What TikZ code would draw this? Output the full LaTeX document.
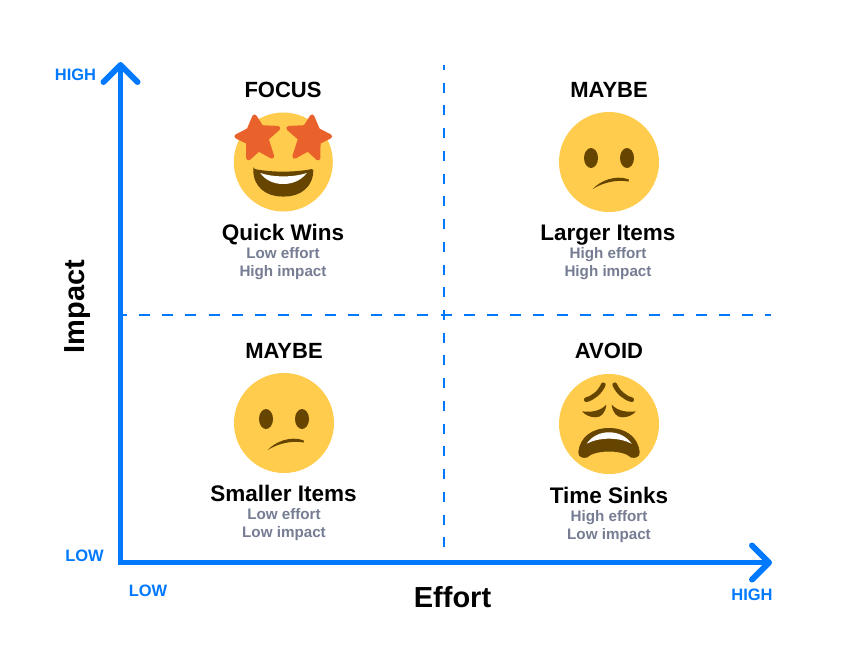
\documentclass[tikz,border=0pt]{standalone}
\usepackage{fontspec}
\setmainfont{Liberation Sans}
\usetikzlibrary{arrows.meta}
\definecolor{axisblue}{HTML}{0079FF}
\definecolor{subgrey}{HTML}{767D93}
\definecolor{faceyellow}{HTML}{FFCC4D}
\definecolor{facebrown}{HTML}{664500}
\definecolor{starorange}{HTML}{E9622B}
\tikzset{
  axishead/.tip={Straight Barb[round,length=17pt,width=34pt,line width=6pt]},
  starface/.pic={
    \fill[faceyellow] (0,0) circle (49.5);
    \foreach \side in {1,-1} {
      \fill[starorange,draw=starorange,line width=4.5pt,line join=round,xscale=\side]
        (-28.8,-45.3) -- (-21.9,-34.6) -- (-5.2,-33.8) -- (-17,-23.4) -- (-11.3,-5.5) -- (-24.7,-13)
        -- (-34.8,-3.8) -- (-35,-19.9) -- (-46.6,-25.6) -- (-34.5,-31.8) -- cycle;
    }
    \fill[facebrown,rounded corners=1.5pt] (-30,6.7) .. controls (-12,10.5) and (12,10.5) .. (30,6.7)
      .. controls (30,25) and (17,34.5) .. (0,34.5) .. controls (-17,34.5) and (-30,25) .. (-30,6.7) -- cycle;
    \fill[white] (-23,11) .. controls (-10,15.5) and (10,15.5) .. (23.5,11)
      .. controls (18,18) and (10,22) .. (0,22) .. controls (-10,22) and (-18,18) .. (-23,11) -- cycle;
  },
  sadface/.pic={
    \fill[faceyellow] (0,0) circle (50);
    \fill[facebrown] (-18,-4) ellipse (7 and 10);
    \fill[facebrown] (18,-4) ellipse (7 and 10);
    \fill[facebrown] (-16.3,27) .. controls (-9,19) and (6,12.5) .. (19.5,17.3)
      .. controls (20,18.5) and (20,19.5) .. (19.5,19.5) .. controls (8,17.5) and (-5,20) .. (-16.3,27) -- cycle;
  },
  tiredface/.pic={
    \fill[faceyellow] (0,0) circle (50);
    \draw[facebrown,line width=4.7pt,line cap=round] (-5.7,-39.3) .. controls (-9,-32) and (-15,-26.5) .. (-22.7,-24.3);
    \draw[facebrown,line width=4.7pt,line cap=round] (5.7,-39.3) .. controls (9,-32) and (15,-26.5) .. (22.7,-24.3);
    \fill[facebrown] (-26.7,-12.7) .. controls (-19,-11.5) and (-9,-12.5) .. (-2.7,-19.3)
      .. controls (-3.5,-11) and (-8,-6.7) .. (-13.3,-6.7) .. controls (-19,-6.7) and (-24,-9) .. (-26.7,-12.7) -- cycle;
    \fill[facebrown] (26.7,-12.7) .. controls (19,-11.5) and (9,-12.5) .. (2.7,-19.3)
      .. controls (3.5,-11) and (8,-6.7) .. (13.3,-6.7) .. controls (19,-6.7) and (24,-9) .. (26.7,-12.7) -- cycle;
    \fill[facebrown] (-30.7,28) .. controls (-29,13) and (-17,4) .. (0,4)
      .. controls (17,4) and (29,13) .. (30.7,28) .. controls (31,33.5) and (26,34.5) .. (22,33.5)
      .. controls (14,25.5) and (-14,25.5) .. (-22,33.5) .. controls (-26,34.5) and (-31,33.5) .. (-30.7,28) -- cycle;
    \fill[white] (-22.3,19.7) .. controls (-17,12) and (-9,8.3) .. (0,8.3)
      .. controls (9,8.3) and (17,12) .. (22.7,19.7) .. controls (10,13) and (-10,13) .. (-22.3,19.7) -- cycle;
  }
}
\begin{document}
\begin{tikzpicture}[x=1pt,y=-1pt,
  every node/.append style={inner sep=0pt,anchor=base,font=\bfseries}]
  \tikzstyle{axis} = [line width=5.5pt,color=axisblue,line join=miter]
  \tikzstyle{divider} = [line width=2pt,color=axisblue]
  \tikzstyle{tick} = [font=\fontsize{16.5}{16.5}\selectfont\bfseries,color=axisblue]
  \tikzstyle{axisname} = [font=\fontsize{29}{29}\selectfont\bfseries,color=black]
  \tikzstyle{verdict} = [font=\fontsize{22}{22}\selectfont\bfseries,color=black]
  \tikzstyle{item} = [font=\fontsize{22.5}{22.5}\selectfont\bfseries,color=black]
  \tikzstyle{note} = [font=\fontsize{15.2}{15.2}\selectfont\bfseries,color=subgrey]
  \useasboundingbox (0,0) rectangle (842,667);
  \coordinate (top) at (120.5,62);
  \coordinate (corner) at (120.5,562.5);
  \coordinate (right) at (772,562.5);
  \coordinate (mid_top) at (444,65);
  \coordinate (mid_bottom) at (444,562);
  \coordinate (mid_left) at (120,315);
  \coordinate (mid_right) at (771,315);
  \draw[divider,dash pattern=on 10pt off 12.73pt,dash phase=5pt] (mid_top) -- (mid_bottom);
  \draw[divider,dash pattern=on 11pt off 12.2pt,dash phase=4.2pt] (mid_left) -- (mid_right);
  \draw[axis,{axishead}-{axishead}] (top) -- (corner) -- (right);
  \node (impact) [axisname,rotate=90] at (84,306.5) {Impact};
  \node (effort) [axisname] at (452.5,607.7) {Effort};
  \node (y_high) [tick] at (75.5,80) {HIGH};
  \node (y_low) [tick] at (84.5,561) {LOW};
  \node (x_low) [tick] at (148,596) {LOW};
  \node (x_high) [tick] at (752,600.5) {HIGH};
  \pic at (283.3,162) {starface};
  \node (verdict_1) [verdict] at (283,97) {FOCUS};
  \node (item_1) [item] at (283,240) {Quick Wins};
  \node (effort_1) [note] at (283,258) {Low effort};
  \node (impact_1) [note] at (283,276) {High impact};
  \pic at (609,162) {sadface};
  \node (verdict_2) [verdict] at (609,97) {MAYBE};
  \node (item_2) [item] at (608,240) {Larger Items};
  \node (effort_2) [note] at (608,258) {High effort};
  \node (impact_2) [note] at (608,276) {High impact};
  \pic at (284,423) {sadface};
  \node (verdict_3) [verdict] at (284,358) {MAYBE};
  \node (item_3) [item] at (283.5,501.5) {Smaller Items};
  \node (effort_3) [note] at (284,519) {Low effort};
  \node (impact_3) [note] at (284,537) {Low impact};
  \pic at (609,424) {tiredface};
  \node (verdict_4) [verdict] at (609,358) {AVOID};
  \node (item_4) [item] at (609,503) {Time Sinks};
  \node (effort_4) [note] at (609,521) {High effort};
  \node (impact_4) [note] at (609,539) {Low impact};
\end{tikzpicture}
\end{document}
